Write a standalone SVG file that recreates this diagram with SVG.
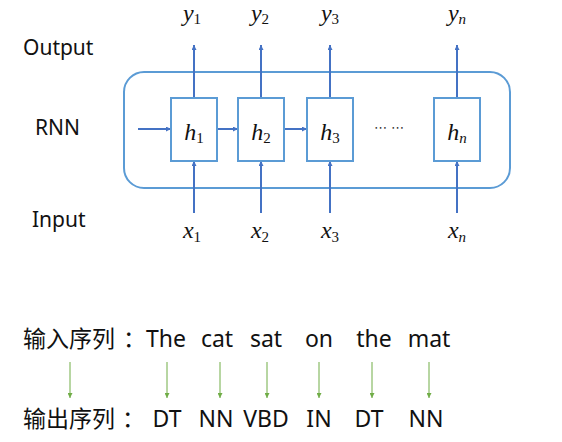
<svg xmlns="http://www.w3.org/2000/svg" width="562" height="442" viewBox="0 0 562 442">
<defs>
<marker id="ab" viewBox="0 0 10 10" refX="10" refY="5" markerWidth="5" markerHeight="5" orient="auto" markerUnits="userSpaceOnUse"><path d="M0,0 L10,5 L0,10 z" fill="#4472c4"/></marker>
<marker id="ag" viewBox="0 0 10 10" refX="10" refY="5" markerWidth="5" markerHeight="5" orient="auto" markerUnits="userSpaceOnUse"><path d="M0,0 L10,5 L0,10 z" fill="#70ad47"/></marker>
</defs>
<style>
.lbl{font-family:"Noto Sans","Noto Sans CJK SC",sans-serif;font-size:21px;fill:#111}
.seq{font-family:"Noto Sans","Noto Sans CJK SC",sans-serif;font-size:23px;fill:#111}
.m{font-family:"Liberation Serif",serif;font-style:italic;font-size:24px;fill:#111;text-anchor:middle}
.sub{font-style:normal;font-size:15px}
.subi{font-size:15px}
.box{fill:#fff;stroke:#5b9bd5;stroke-width:2}
.ab{stroke:#4472c4;stroke-width:2;fill:none;marker-end:url(#ab)}
.ag{stroke:#70ad47;stroke-width:1;fill:none;marker-end:url(#ag)}
</style>
<rect width="562" height="442" fill="#fff"/>
<g id="labels">
<text class="lbl" x="23" y="55">Output</text>
<text class="lbl" x="35" y="135">RNN</text>
<text class="lbl" x="32" y="227">Input</text>
</g>
<g id="rnn-frame"><rect x="124" y="72" width="386" height="116" rx="20" fill="none" stroke="#5b9bd5" stroke-width="2"/></g>
<g id="connectors">
<line class="ab" x1="138" y1="129" x2="171" y2="129"/>
<line class="ab" x1="217" y1="129" x2="238" y2="129"/>
<line class="ab" x1="284" y1="129" x2="307" y2="129"/>
<line class="ab" x1="194" y1="98" x2="194" y2="45"/>
<line class="ab" x1="261" y1="98" x2="261" y2="45"/>
<line class="ab" x1="330" y1="98" x2="330" y2="45"/>
<line class="ab" x1="457" y1="98" x2="457" y2="45"/>
<line class="ab" x1="194" y1="213" x2="194" y2="161"/>
<line class="ab" x1="261" y1="213" x2="261" y2="161"/>
<line class="ab" x1="330" y1="213" x2="330" y2="161"/>
<line class="ab" x1="457" y1="213" x2="457" y2="161"/>
<line class="ag" x1="70" y1="362" x2="70" y2="398"/>
<line class="ag" x1="167" y1="362" x2="167" y2="398"/>
<line class="ag" x1="220" y1="362" x2="220" y2="398"/>
<line class="ag" x1="267" y1="362" x2="267" y2="398"/>
<line class="ag" x1="319" y1="362" x2="319" y2="398"/>
<line class="ag" x1="372" y1="362" x2="372" y2="398"/>
<line class="ag" x1="429" y1="362" x2="429" y2="398"/>
</g>
<g id="h1"><rect class="box" x="171" y="98" width="46" height="63"/><text class="m" x="194" y="140">h<tspan class="sub" dy="3">1</tspan></text></g>
<g id="h2"><rect class="box" x="238" y="98" width="46" height="63"/><text class="m" x="261" y="140">h<tspan class="sub" dy="3">2</tspan></text></g>
<g id="h3"><rect class="box" x="307" y="98" width="46" height="63"/><text class="m" x="330" y="140">h<tspan class="sub" dy="3">3</tspan></text></g>
<g id="hn"><rect class="box" x="434" y="98" width="46" height="63"/><text class="m" x="457" y="140">h<tspan class="subi" dy="3">n</tspan></text></g>
<g id="dots"><text x="389" y="132" text-anchor="middle" style="font-family:'DejaVu Sans',sans-serif;font-size:13px;fill:#333">⋯ ⋯</text></g>
<g id="outputs">
<text class="m" x="192" y="21">y<tspan class="sub" dy="3">1</tspan></text>
<text class="m" x="260" y="21">y<tspan class="sub" dy="3">2</tspan></text>
<text class="m" x="330" y="21">y<tspan class="sub" dy="3">3</tspan></text>
<text class="m" x="457" y="21">y<tspan class="subi" dy="3">n</tspan></text>
</g>
<g id="inputs">
<text class="m" x="192" y="238">x<tspan class="sub" dy="4">1</tspan></text>
<text class="m" x="260" y="238">x<tspan class="sub" dy="4">2</tspan></text>
<text class="m" x="330" y="238">x<tspan class="sub" dy="4">3</tspan></text>
<text class="m" x="457" y="238">x<tspan class="subi" dy="4">n</tspan></text>
</g>
<g id="input-seq">
<text class="seq" x="23" y="347">输入序列</text>
<text class="seq" x="146" y="347" text-anchor="end">：</text>
<text class="seq" x="166" y="347" text-anchor="middle">The</text>
<text class="seq" x="217" y="347" text-anchor="middle">cat</text>
<text class="seq" x="266" y="347" text-anchor="middle">sat</text>
<text class="seq" x="319" y="347" text-anchor="middle">on</text>
<text class="seq" x="374" y="347" text-anchor="middle">the</text>
<text class="seq" x="429" y="347" text-anchor="middle">mat</text>
</g>
<g id="output-seq">
<text class="seq" x="23" y="427">输出序列</text>
<text class="seq" x="145" y="427" text-anchor="end">：</text>
<text class="seq" x="167" y="427" text-anchor="middle">DT</text>
<text class="seq" x="216" y="427" text-anchor="middle">NN</text>
<text class="seq" x="266" y="427" text-anchor="middle">VBD</text>
<text class="seq" x="319" y="427" text-anchor="middle">IN</text>
<text class="seq" x="369" y="427" text-anchor="middle">DT</text>
<text class="seq" x="426" y="427" text-anchor="middle">NN</text>
</g>
</svg>
